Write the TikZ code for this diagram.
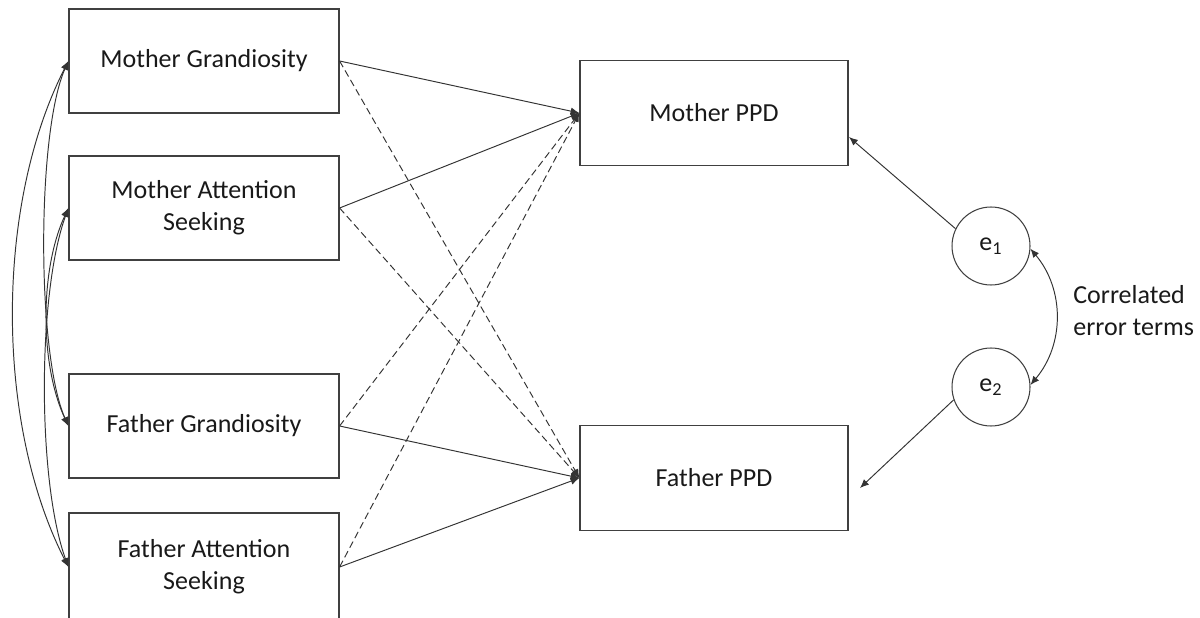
\documentclass[tikz,border=0pt]{standalone}
\usepackage{fontspec}
\setmainfont{Carlito}
\usetikzlibrary{arrows.meta,positioning,shapes}
\tikzset{
  box/.style={draw=black!75,line width=.7pt,minimum width=5.4cm,minimum height=2.08cm,align=center,inner sep=0pt,text=black!90},
  err/.style={draw=black!75,line width=.6pt,circle,minimum size=1.56cm,inner sep=0pt,text=black!90},
  lnk/.style={draw=black!80,line width=.55pt,-{Latex[length=5pt,width=4.2pt]}},
  dsh/.style={lnk,dash pattern=on 4pt off 2.2pt},
  cov/.style={draw=black!80,line width=.55pt,{Latex[length=5pt,width=4.2pt]}-{Latex[length=5pt,width=4.2pt]}},
}
\begin{document}
\begin{tikzpicture}[x=0.02cm,y=-0.02cm,font=\fontsize{14.8}{18.2}\selectfont]
	\useasboundingbox (0,0) rectangle (1200,618);

	% predictors
	\node[box] at (204,61) (mg) {Mother Grandiosity};
	\node[box] at (204,208) (mas) {Mother Attention\\Seeking};
	\node[box] at (204,426) (fg) {Father Grandiosity};
	\node[box,minimum height=2.16cm] at (204,567) (fas) {Father Attention\\Seeking};

	% outcomes
	\node[box,minimum width=5.36cm,minimum height=2.1cm] at (714,113) (mppd) {Mother PPD};
	\node[box,minimum width=5.36cm,minimum height=2.1cm] at (714,478) (fppd) {Father PPD};

	% errors
	\node[err] at (991,246) (e1) {e\textsubscript{1}};
	\node[err] at (991,387) (e2) {e\textsubscript{2}};
	\node[anchor=west,align=left,inner sep=0pt,text=black!90] at (1073,311) (cet) {Correlated\\error terms};
	\coordinate (m1) at (849,137);
	\coordinate (f1) at (860,488);

	\draw[lnk] (mg.east) -- (mppd.west);
	\draw[lnk] (mas.east) -- (mppd.west);
	\draw[lnk] (fg.east) -- (fppd.west);
	\draw[lnk] (fas.east) -- (fppd.west);
	\draw[dsh] (mg.east) -- (fppd.west);
	\draw[dsh] (mas.east) -- (fppd.west);
	\draw[dsh] (fg.east) -- (mppd.west);
	\draw[dsh] (fas.east) -- (mppd.west);

	\draw[lnk] (e1.154) -- (m1);
	\draw[lnk] (e2.199) -- (f1);
	\draw[cov] (e1.-4) to[bend left=40] (e2.3);

	\draw[cov] (mg.west) to[bend right=27,looseness=.82] (fas.west);
	\draw[cov] (mg.west) to[bend right=24,looseness=.55] (fg.west);
	\draw[cov] (mas.west) to[bend right=20,looseness=.65] (fas.west);
	\draw[cov] (mas.west) to[bend right=25,looseness=.8] (fg.west);

\end{tikzpicture}
\end{document}
